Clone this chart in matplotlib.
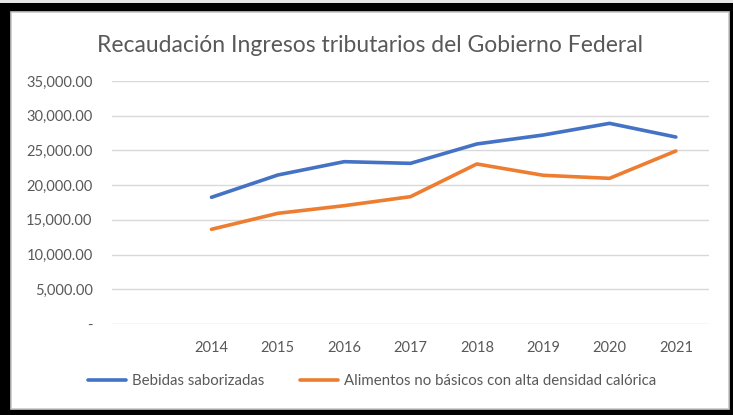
import numpy as np
import matplotlib
matplotlib.use('Agg')
import matplotlib.pyplot as plt
from matplotlib.patches import Rectangle
from matplotlib.ticker import FuncFormatter

# Datos (primera categoría vacía, como en el original)
categorias = ['', '2014', '2015', '2016', '2017', '2018', '2019', '2020', '2021']
bebidas = [np.nan, 18250, 21460, 23380, 23140, 25930, 27220, 28900, 26930]
alimentos = [np.nan, 13640, 15940, 17040, 18340, 23050, 21420, 20980, 24920]
series_nombres = ['Bebidas saborizadas', 'Alimentos no básicos con alta densidad calórica']
titulo = 'Recaudación Ingresos tributarios del Gobierno Federal'

W, H = 733, 415
plt.rcParams['font.family'] = ['Lato', 'DejaVu Sans']
texto = '#595959'

fig = plt.figure(figsize=(W / 100, H / 100), dpi=100)

# marco negro de la captura
fig.patches.append(Rectangle((0, 0), 1, 1, transform=fig.transFigure,
                             facecolor='black', edgecolor='none', zorder=-3))
fig.patches.append(Rectangle((11 / W, 1 - 409 / H), (729 - 11) / W, (409 - 12) / H,
                             transform=fig.transFigure, facecolor='white',
                             edgecolor='#c8c8c8', linewidth=1.2, zorder=-2))
fig.patches.append(Rectangle((0, 1 - 3 / H), 1, 3 / H, transform=fig.transFigure,
                             facecolor='#e6e6e6', edgecolor='none', zorder=-1))

ax = fig.add_axes([112 / W, 1 - 324 / H, (709 - 112) / W, (324 - 81) / H])
ax.set_facecolor('none')
x = np.arange(len(categorias))
ax.plot(x, bebidas, color='#4472C4', linewidth=2.6, solid_capstyle='round', label=series_nombres[0])
ax.plot(x, alimentos, color='#ED7D31', linewidth=2.6, solid_capstyle='round', label=series_nombres[1])

ax.set_xlim(-0.5, len(categorias) - 0.5)
ax.set_ylim(0, 35000)
ax.set_yticks(np.arange(0, 35001, 5000))
ax.yaxis.set_major_formatter(FuncFormatter(lambda v, p: '-' if v == 0 else '{:,.2f}'.format(v)))
ax.set_xticks(x)
ax.set_xticklabels(categorias)
ax.grid(axis='y', color='#d9d9d9', linewidth=1)
ax.set_axisbelow(True)
for s in ax.spines.values():
    s.set_visible(False)
ax.tick_params(length=0, labelsize=10.5, labelcolor=texto)
ax.tick_params(axis='y', pad=14)
ax.tick_params(axis='x', pad=12)

fig.text(370 / W, 1 - 45 / H, titulo, ha='center', va='center', fontsize=16.5, color=texto)

fig.legend(loc='center', bbox_to_anchor=(372 / W, 1 - 381 / H), ncol=2, frameon=False,
           fontsize=10.8, labelcolor=texto, handlelength=2.5, handletextpad=0.4,
           columnspacing=2.4)

fig.savefig('out.png', dpi=100)
